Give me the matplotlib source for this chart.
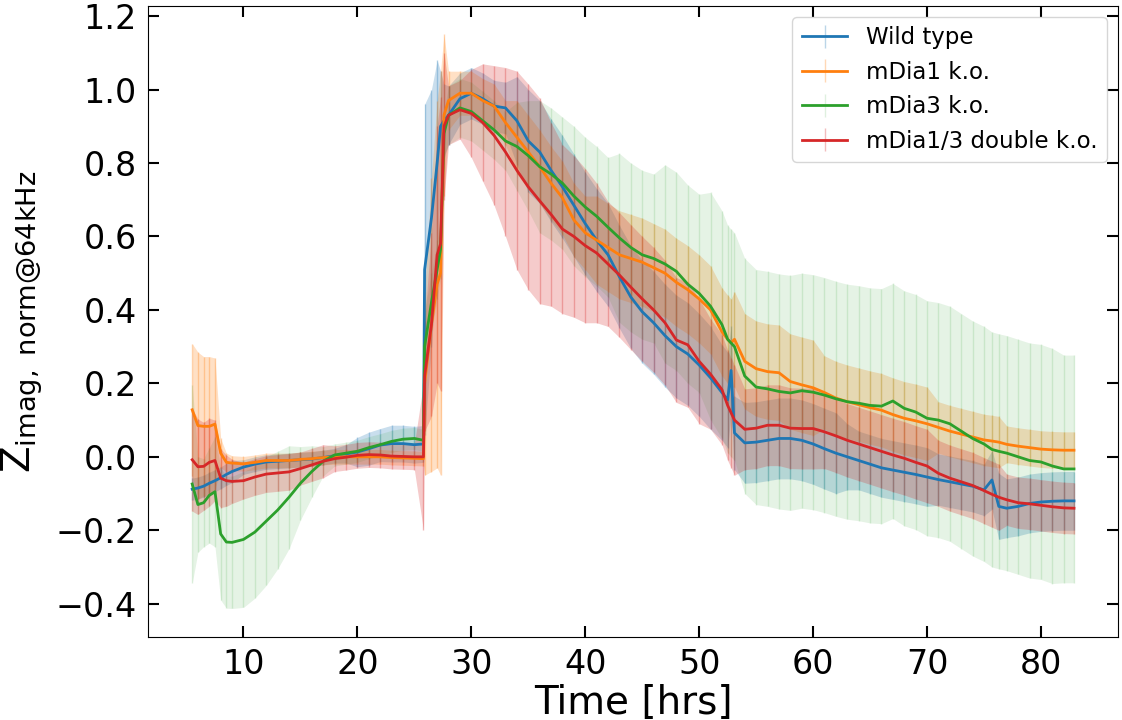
import numpy as np
import matplotlib
matplotlib.use("Agg")
import matplotlib.pyplot as plt

# time axis [hrs]
time = [5.5, 6, 6.5, 7, 7.5, 8, 8.5, 9, 10, 11, 12, 13, 14, 15, 16, 17, 18, 19, 20, 21,
        22, 23, 24, 25, 25.8,
        25.9, 26.5, 27.0, 27.3, 27.6, 28, 29, 30, 31, 32, 33, 34, 35, 36, 37, 38, 39, 40,
        41, 42, 43, 44, 45, 46, 47, 48, 49, 50, 51, 52, 52.5, 52.8, 53.1, 54,
        55, 56, 57, 58, 59, 60, 61, 62, 63, 64, 65, 66, 67, 68, 69, 70, 71, 72, 73, 74, 75,
        75.7, 76.3, 77, 78, 79, 80, 81, 82, 82.9]

labels = ["Wild type", "mDia1 k.o.", "mDia3 k.o.", "mDia1/3 double k.o."]

wt_mean = [-0.088, -0.085, -0.08, -0.072, -0.065, -0.057, -0.048, -0.04, -0.028, -0.02,
           -0.014, -0.012, -0.01, -0.008, -0.006, -0.002, 0.003, 0.008, 0.013, 0.022,
           0.032, 0.036, 0.036, 0.033, 0.035,
           0.51, 0.65, 0.8, 0.9, 0.915, 0.93, 0.975, 0.99, 0.975, 0.955, 0.95, 0.915, 0.86,
           0.83, 0.78, 0.735, 0.685, 0.635, 0.59, 0.55, 0.49, 0.435, 0.395, 0.365, 0.33,
           0.30, 0.28, 0.25, 0.215, 0.175, 0.155, 0.235, 0.065, 0.038,
           0.04, 0.045, 0.05, 0.05, 0.045, 0.035, 0.022, 0.01, 0.0, -0.01, -0.02, -0.03,
           -0.036, -0.042, -0.048, -0.055, -0.062, -0.068, -0.074, -0.08, -0.09,
           -0.063, -0.135, -0.14, -0.135, -0.127, -0.123, -0.121, -0.12, -0.12]
wt_err = [0.03, 0.03, 0.03, 0.03, 0.03, 0.03, 0.03, 0.03, 0.02, 0.02,
          0.02, 0.02, 0.02, 0.02, 0.02, 0.02, 0.02, 0.025, 0.04, 0.045,
          0.045, 0.05, 0.05, 0.05, 0.05,
          0.45, 0.35, 0.28, 0.15, 0.1, 0.08, 0.07, 0.07, 0.07, 0.07, 0.07, 0.12, 0.14,
          0.14, 0.14, 0.14, 0.14, 0.14, 0.14, 0.14, 0.14, 0.14, 0.14, 0.14, 0.14,
          0.14, 0.14, 0.14, 0.14, 0.13, 0.13, 0.12, 0.1, 0.11,
          0.11, 0.11, 0.11, 0.11, 0.11, 0.11, 0.11, 0.11, 0.09, 0.08, 0.08, 0.08,
          0.08, 0.08, 0.08, 0.08, 0.07, 0.07, 0.07, 0.07, 0.07,
          0.08, 0.09, 0.08, 0.08, 0.08, 0.08, 0.08, 0.08, 0.08]

dia1_mean = [0.128, 0.085, 0.083, 0.083, 0.089, 0.01, -0.015, -0.017, -0.019, -0.015,
             -0.01, -0.01, -0.01, -0.007, -0.005, -0.002, 0.0, 0.0, 0.0, 0.0,
             0.0, -0.002, -0.003, -0.004, -0.005,
             0.2, 0.36, 0.47, 0.5, 0.93, 0.97, 0.99, 0.99, 0.97, 0.955, 0.91, 0.87, 0.83,
             0.79, 0.745, 0.705, 0.645, 0.61, 0.59, 0.57, 0.55, 0.54, 0.53, 0.515, 0.5,
             0.475, 0.455, 0.43, 0.40, 0.34, 0.32, 0.31, 0.32, 0.26,
             0.24, 0.232, 0.229, 0.205, 0.196, 0.188, 0.175, 0.16, 0.15, 0.142, 0.134,
             0.127, 0.115, 0.105, 0.098, 0.09, 0.08, 0.07, 0.062, 0.054, 0.046,
             0.043, 0.04, 0.034, 0.029, 0.025, 0.021, 0.019, 0.018, 0.018]
dia1_err = [0.18, 0.2, 0.19, 0.19, 0.18, 0.04, 0.025, 0.02, 0.02, 0.02,
            0.02, 0.02, 0.02, 0.02, 0.02, 0.02, 0.02, 0.02, 0.02, 0.02,
            0.02, 0.02, 0.02, 0.02, 0.02,
            0.25, 0.4, 0.5, 0.55, 0.22, 0.08, 0.06, 0.06, 0.06, 0.06, 0.06, 0.1, 0.1,
            0.1, 0.1, 0.1, 0.1, 0.1, 0.12, 0.12, 0.12, 0.12, 0.12, 0.12, 0.12,
            0.12, 0.12, 0.12, 0.12, 0.12, 0.12, 0.12, 0.13, 0.13,
            0.13, 0.13, 0.13, 0.13, 0.13, 0.13, 0.1, 0.1, 0.1, 0.1, 0.1,
            0.1, 0.1, 0.1, 0.1, 0.1, 0.07, 0.07, 0.07, 0.07, 0.07,
            0.07, 0.07, 0.05, 0.05, 0.05, 0.05, 0.05, 0.05, 0.05]

dia3_mean = [-0.074, -0.13, -0.125, -0.105, -0.095, -0.21, -0.232, -0.233, -0.225, -0.205,
             -0.175, -0.145, -0.11, -0.072, -0.04, -0.012, 0.005, 0.01, 0.015, 0.025,
             0.033, 0.042, 0.048, 0.05, 0.045,
             0.3, 0.42, 0.51, 0.565, 0.88, 0.93, 0.95, 0.94, 0.915, 0.89, 0.86, 0.845, 0.82,
             0.79, 0.77, 0.745, 0.71, 0.68, 0.655, 0.625, 0.596, 0.57, 0.55, 0.54, 0.525,
             0.505, 0.47, 0.445, 0.41, 0.36, 0.32, 0.31, 0.3, 0.22,
             0.19, 0.185, 0.178, 0.174, 0.18, 0.176, 0.168, 0.158, 0.15, 0.146, 0.14,
             0.138, 0.152, 0.132, 0.122, 0.105, 0.1, 0.09, 0.07, 0.05, 0.035,
             0.02, 0.015, 0.01, 0.0, -0.01, -0.014, -0.025, -0.033, -0.033]
dia3_err = [0.27, 0.13, 0.12, 0.13, 0.15, 0.18, 0.18, 0.18, 0.185, 0.18,
            0.175, 0.16, 0.14, 0.1, 0.07, 0.04, 0.03, 0.03, 0.03, 0.03,
            0.03, 0.03, 0.03, 0.03, 0.03,
            0.1, 0.08, 0.08, 0.08, 0.06, 0.08, 0.08, 0.08, 0.08, 0.08, 0.08, 0.12, 0.15,
            0.18, 0.18, 0.18, 0.19, 0.19, 0.19, 0.19, 0.23, 0.23, 0.23, 0.23, 0.27,
            0.27, 0.27, 0.27, 0.31, 0.31, 0.31, 0.31, 0.31, 0.32,
            0.32, 0.32, 0.32, 0.32, 0.32, 0.32, 0.32, 0.32, 0.32, 0.32, 0.32,
            0.32, 0.32, 0.32, 0.32, 0.32, 0.32, 0.32, 0.32, 0.32, 0.32,
            0.32, 0.32, 0.32, 0.32, 0.32, 0.32, 0.32, 0.31, 0.31]

dko_mean = [-0.008, -0.027, -0.026, -0.015, -0.01, -0.058, -0.065, -0.067, -0.065, -0.055,
            -0.047, -0.044, -0.041, -0.032, -0.022, -0.012, -0.005, -0.001, 0.004, 0.006,
            0.005, 0.002, 0.001, 0.0, 0.0,
            0.22, 0.36, 0.55, 0.58, 0.9, 0.93, 0.945, 0.935, 0.91, 0.875, 0.83, 0.78, 0.735,
            0.697, 0.66, 0.62, 0.6, 0.575, 0.555, 0.525, 0.495, 0.462, 0.43, 0.4, 0.365,
            0.318, 0.305, 0.26, 0.225, 0.183, 0.14, 0.12, 0.1, 0.075,
            0.078, 0.086, 0.086, 0.078, 0.077, 0.077, 0.068, 0.057, 0.045, 0.035, 0.025,
            0.015, 0.005, -0.004, -0.015, -0.025, -0.045, -0.058, -0.068, -0.078, -0.092,
            -0.102, -0.11, -0.117, -0.125, -0.128, -0.132, -0.136, -0.139, -0.14]
dko_err = [0.14, 0.13, 0.12, 0.12, 0.11, 0.08, 0.07, 0.06, 0.05, 0.05,
           0.05, 0.05, 0.05, 0.045, 0.045, 0.045, 0.035, 0.035, 0.035, 0.035,
           0.035, 0.035, 0.035, 0.035, 0.2,
           0.15, 0.25, 0.35, 0.4, 0.2, 0.08, 0.08, 0.12, 0.16, 0.19, 0.23, 0.27, 0.28,
           0.28, 0.25, 0.23, 0.22, 0.21, 0.19, 0.17, 0.17, 0.17, 0.17, 0.17, 0.17,
           0.17, 0.17, 0.17, 0.15, 0.15, 0.15, 0.15, 0.15, 0.11,
           0.11, 0.11, 0.11, 0.11, 0.11, 0.11, 0.1, 0.1, 0.1, 0.1, 0.1,
           0.1, 0.1, 0.1, 0.1, 0.1, 0.09, 0.09, 0.09, 0.09, 0.09,
           0.09, 0.09, 0.07, 0.07, 0.07, 0.07, 0.07, 0.07, 0.07]

means = [wt_mean, dia1_mean, dia3_mean, dko_mean]
errs = [wt_err, dia1_err, dia3_err, dko_err]
colors = ["tab:blue", "tab:orange", "tab:green", "tab:red"]
band_alpha = [0.3, 0.3, 0.15, 0.3]

fig = plt.figure(figsize=(11.22, 7.2), dpi=100)
ax = fig.add_axes([0.132, 0.115, 0.8645, 0.877])

t = np.array(time)
# shaded band under the error bars
for m, e, c, a in zip(means, errs, colors, band_alpha):
    m = np.array(m)
    e = np.array(e)
    ax.fill_between(t, m - e, m + e, color=c, alpha=a * 0.8, lw=0, zorder=1)

for m, e, c, a, lab in zip(means, errs, colors, band_alpha, labels):
    eb = ax.errorbar(t, m, yerr=e, color=c, ecolor=c, elinewidth=1,
                     lw=2, label=lab, zorder=3)
    eb[2][0].set_alpha(a)
    eb[2][0].set_zorder(2)

ax.set_xlabel("Time [hrs]", fontsize=28, labelpad=2)
ax.set_ylabel(r"Z$_{\rm imag,\ norm@64kHz}$", fontsize=28, labelpad=8)
ax.tick_params(axis="both", which="major", direction="in", length=8, width=1.5,
               labelsize=24, top=True, right=True, pad=8)
ax.set_yticks([-0.4, -0.2, 0.0, 0.2, 0.4, 0.6, 0.8, 1.0, 1.2])
ax.legend(loc="upper right", fontsize=16.5)

fig.savefig("out.png", dpi=100)
